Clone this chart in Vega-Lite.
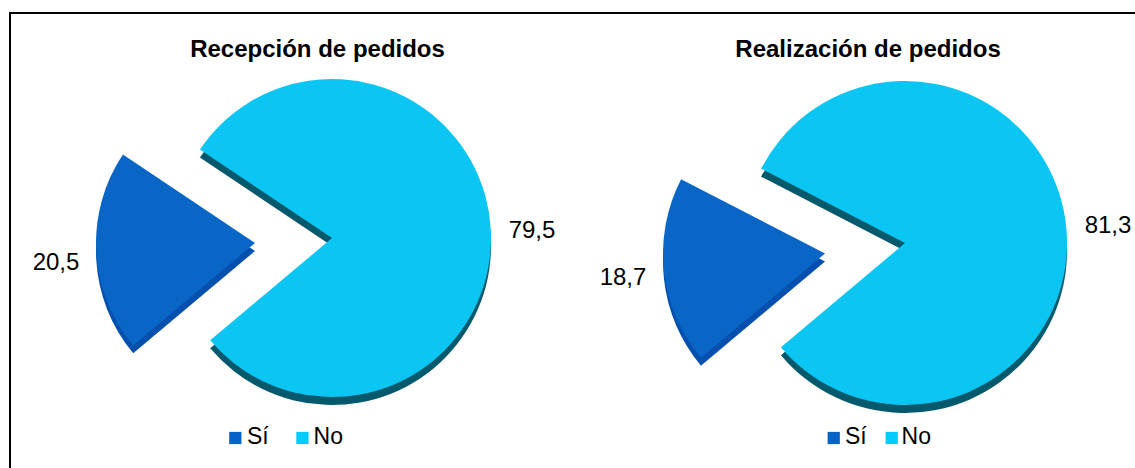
{
  "$schema": "https://vega.github.io/schema/vega-lite/v6.json",
  "width": 1200,
  "height": 470,
  "padding": {"left": 10, "top": 13, "right": 0, "bottom": 0},
  "autosize": {"type": "none"},
  "config": {
    "view": {"stroke": "#000000", "strokeWidth": 2},
    "font": "Liberation Sans",
    "locale": {"number": {"decimal": ",", "thousands": ".", "grouping": [3], "currency": ["", " €"]}}
  },
  "data": {
    "values": [
      {"chart": "Recepción de pedidos", "answer": "Sí", "value": 20.5},
      {"chart": "Recepción de pedidos", "answer": "No", "value": 79.5},
      {"chart": "Realización de pedidos", "answer": "Sí", "value": 18.7},
      {"chart": "Realización de pedidos", "answer": "No", "value": 81.3}
    ]
  },
  "transform": [
    {"stack": "value", "groupby": ["chart"], "sort": [{"field": "answer", "order": "descending"}], "as": ["v0", "v1"]}
  ],
  "encoding": {
    "x": {
      "field": "chart",
      "type": "nominal",
      "sort": ["Recepción de pedidos", "Realización de pedidos"],
      "scale": {"type": "point", "padding": 0.5471, "align": 0.5136},
      "axis": null
    }
  },
  "layer": [
    {
      "transform": [{"filter": "datum.chart === 'Recepción de pedidos' && datum.answer === 'No'"}],
      "mark": {"type": "arc", "radius": 159, "yOffset": -2, "color": "#045A6C"},
      "encoding": {
        "theta": {"field": "v0", "type": "quantitative", "stack": null, "scale": {"domain": [0, 100], "range": [4.01426, 10.29744]}},
        "theta2": {"field": "v1"}
      }
    },
    {
      "transform": [{"filter": "datum.chart === 'Recepción de pedidos' && datum.answer === 'Sí'"}],
      "mark": {"type": "arc", "radius": 159, "xOffset": -77, "yOffset": 3, "color": "#0550AE"},
      "encoding": {
        "theta": {"field": "v0", "type": "quantitative", "stack": null, "scale": {"domain": [0, 100], "range": [4.01426, 10.29744]}},
        "theta2": {"field": "v1"}
      }
    },
    {
      "transform": [{"filter": "datum.chart === 'Realización de pedidos' && datum.answer === 'No'"}],
      "mark": {"type": "arc", "radius": 162, "yOffset": 3, "color": "#045A6C"},
      "encoding": {
        "theta": {"field": "v0", "type": "quantitative", "stack": null, "scale": {"domain": [0, 100], "range": [4.01426, 10.29744]}},
        "theta2": {"field": "v1"}
      }
    },
    {
      "transform": [{"filter": "datum.chart === 'Realización de pedidos' && datum.answer === 'Sí'"}],
      "mark": {"type": "arc", "radius": 162, "xOffset": -80, "yOffset": 13.5, "color": "#0550AE"},
      "encoding": {
        "theta": {"field": "v0", "type": "quantitative", "stack": null, "scale": {"domain": [0, 100], "range": [4.01426, 10.29744]}},
        "theta2": {"field": "v1"}
      }
    },
    {
      "transform": [{"filter": "datum.chart === 'Recepción de pedidos' && datum.answer === 'No'"}],
      "mark": {"type": "arc", "radius": 159, "yOffset": -10, "color": "#0BC6F3"},
      "encoding": {
        "theta": {"field": "v0", "type": "quantitative", "stack": null, "scale": {"domain": [0, 100], "range": [4.01426, 10.29744]}},
        "theta2": {"field": "v1"}
      }
    },
    {
      "transform": [{"filter": "datum.chart === 'Recepción de pedidos' && datum.answer === 'Sí'"}],
      "mark": {"type": "arc", "radius": 159, "xOffset": -77, "yOffset": -5, "color": "#0966C6"},
      "encoding": {
        "theta": {"field": "v0", "type": "quantitative", "stack": null, "scale": {"domain": [0, 100], "range": [4.01426, 10.29744]}},
        "theta2": {"field": "v1"}
      }
    },
    {
      "transform": [{"filter": "datum.chart === 'Realización de pedidos' && datum.answer === 'No'"}],
      "mark": {"type": "arc", "radius": 162, "yOffset": -5, "color": "#0BC6F3"},
      "encoding": {
        "theta": {"field": "v0", "type": "quantitative", "stack": null, "scale": {"domain": [0, 100], "range": [4.01426, 10.29744]}},
        "theta2": {"field": "v1"}
      }
    },
    {
      "transform": [{"filter": "datum.chart === 'Realización de pedidos' && datum.answer === 'Sí'"}],
      "mark": {"type": "arc", "radius": 162, "xOffset": -80, "yOffset": 5.5, "color": "#0966C6"},
      "encoding": {
        "theta": {"field": "v0", "type": "quantitative", "stack": null, "scale": {"domain": [0, 100], "range": [4.01426, 10.29744]}},
        "theta2": {"field": "v1"}
      }
    },
    {
      "transform": [{"filter": "datum.chart === 'Recepción de pedidos' && datum.answer === 'No'"}],
      "mark": {"type": "text", "fontSize": 24, "align": "center", "baseline": "alphabetic", "dx": 200, "dy": -10, "color": "#000000"},
      "encoding": {"text": {"field": "value", "type": "quantitative", "format": ".1f"}}
    },
    {
      "transform": [{"filter": "datum.chart === 'Recepción de pedidos' && datum.answer === 'Sí'"}],
      "mark": {"type": "text", "fontSize": 24, "align": "center", "baseline": "alphabetic", "dx": -276, "dy": 22, "color": "#000000"},
      "encoding": {"text": {"field": "value", "type": "quantitative", "format": ".1f"}}
    },
    {
      "transform": [{"filter": "datum.chart === 'Realización de pedidos' && datum.answer === 'No'"}],
      "mark": {"type": "text", "fontSize": 24, "align": "center", "baseline": "alphabetic", "dx": 203, "dy": -15, "color": "#000000"},
      "encoding": {"text": {"field": "value", "type": "quantitative", "format": ".1f"}}
    },
    {
      "transform": [{"filter": "datum.chart === 'Realización de pedidos' && datum.answer === 'Sí'"}],
      "mark": {"type": "text", "fontSize": 24, "align": "center", "baseline": "alphabetic", "dx": -282, "dy": 37, "color": "#000000"},
      "encoding": {"text": {"field": "value", "type": "quantitative", "format": ".1f"}}
    },
    {
      "transform": [{"filter": "datum.chart === 'Recepción de pedidos' && datum.answer === 'No'"}],
      "mark": {"type": "text", "fontSize": 24, "fontWeight": "bold", "align": "center", "baseline": "alphabetic", "dx": -14.5, "dy": -191, "color": "#000000"},
      "encoding": {"text": {"field": "chart", "type": "nominal"}}
    },
    {
      "transform": [{"filter": "datum.chart === 'Realización de pedidos' && datum.answer === 'No'"}],
      "mark": {"type": "text", "fontSize": 24, "fontWeight": "bold", "align": "center", "baseline": "alphabetic", "dx": -37, "dy": -191, "color": "#000000"},
      "encoding": {"text": {"field": "chart", "type": "nominal"}}
    },
    {
      "transform": [{"filter": "datum.chart === 'Recepción de pedidos' && datum.answer === 'Sí'"}],
      "mark": {"type": "point", "shape": "square", "filled": true, "opacity": 1, "size": 150, "xOffset": -96.7, "yOffset": 190, "color": "#0563C8"}
    },
    {
      "transform": [{"filter": "datum.chart === 'Recepción de pedidos' && datum.answer === 'No'"}],
      "mark": {"type": "point", "shape": "square", "filled": true, "opacity": 1, "size": 150, "xOffset": -29.6, "yOffset": 190, "color": "#00CCFF"}
    },
    {
      "transform": [{"filter": "datum.chart === 'Realización de pedidos' && datum.answer === 'Sí'"}],
      "mark": {"type": "point", "shape": "square", "filled": true, "opacity": 1, "size": 150, "xOffset": -71.3, "yOffset": 190, "color": "#0563C8"}
    },
    {
      "transform": [{"filter": "datum.chart === 'Realización de pedidos' && datum.answer === 'No'"}],
      "mark": {"type": "point", "shape": "square", "filled": true, "opacity": 1, "size": 150, "xOffset": -13.3, "yOffset": 190, "color": "#00CCFF"}
    },
    {
      "transform": [{"filter": "datum.chart === 'Recepción de pedidos' && datum.answer === 'Sí'"}],
      "mark": {"type": "text", "fontSize": 23, "align": "left", "baseline": "alphabetic", "dx": -85, "dy": 196, "color": "#000000"},
      "encoding": {"text": {"field": "answer", "type": "nominal"}}
    },
    {
      "transform": [{"filter": "datum.chart === 'Recepción de pedidos' && datum.answer === 'No'"}],
      "mark": {"type": "text", "fontSize": 23, "align": "left", "baseline": "alphabetic", "dx": -18.5, "dy": 196, "color": "#000000"},
      "encoding": {"text": {"field": "answer", "type": "nominal"}}
    },
    {
      "transform": [{"filter": "datum.chart === 'Realización de pedidos' && datum.answer === 'Sí'"}],
      "mark": {"type": "text", "fontSize": 23, "align": "left", "baseline": "alphabetic", "dx": -60, "dy": 196, "color": "#000000"},
      "encoding": {"text": {"field": "answer", "type": "nominal"}}
    },
    {
      "transform": [{"filter": "datum.chart === 'Realización de pedidos' && datum.answer === 'No'"}],
      "mark": {"type": "text", "fontSize": 23, "align": "left", "baseline": "alphabetic", "dx": -3.5, "dy": 196, "color": "#000000"},
      "encoding": {"text": {"field": "answer", "type": "nominal"}}
    }
  ]
}
